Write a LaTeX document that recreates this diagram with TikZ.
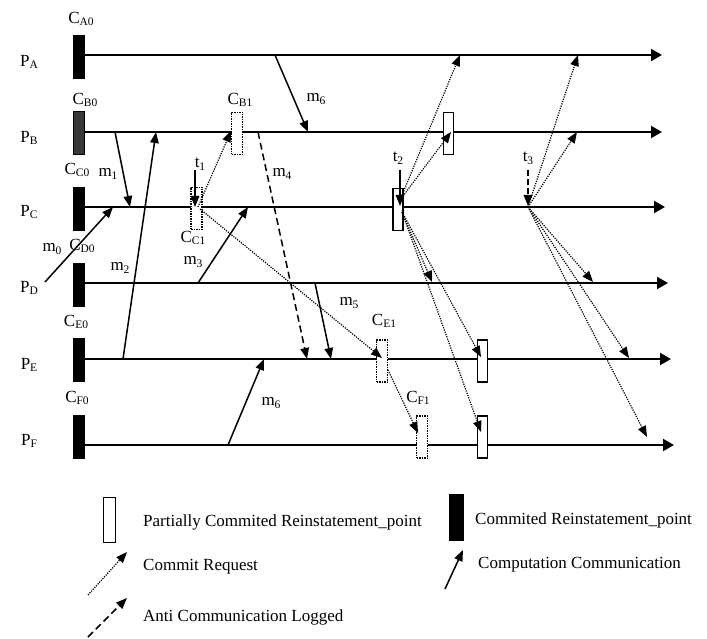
\documentclass[tikz,border=0pt]{standalone}
\usepackage{fontspec}
\setmainfont{Liberation Serif}
\usetikzlibrary{arrows.meta}
\newcommand\lbl[2]{#1\raisebox{-0.35ex}{\fontsize{11.5}{12}\selectfont #2}}
\begin{document}
\begin{tikzpicture}[x=1pt,y=-1pt,
  font=\fontsize{17}{20}\selectfont,
  proc/.style={line width=2pt,-{Triangle[length=11pt,width=12pt]}},
  msg/.style={line width=1.5pt,-{Triangle[length=11pt,width=8.5pt]}},
  req/.style={line width=1.2pt,dash pattern=on 1.2pt off 1.2pt,-{Triangle[length=11pt,width=8.5pt]}},
  anti/.style={line width=1.5pt,dash pattern=on 7pt off 4pt,-{Triangle[length=11pt,width=8.5pt]}},
  cp/.style={fill=black,draw=none,minimum width=12pt,minimum height=44pt,inner sep=0pt},
  pbox/.style={draw,fill=white,line width=1.4pt,minimum width=10pt,minimum height=42pt,inner sep=0pt},
  dbox/.style={draw,fill=white,line width=1.1pt,dash pattern=on 1.5pt off 1pt,minimum width=11pt,minimum height=42pt,inner sep=0pt},
  txt/.style={inner sep=0pt}]
\useasboundingbox (0,0) rectangle (707,639);

% process lines
\foreach \n/\y/\e in {A/55/662,B/132/662,C/207/665,D/283/668,E/359/671,F/445/674}{
  \coordinate (s\n) at (85,\y);
  \coordinate (e\n) at (\e,\y);
  \draw[proc] (s\n) -- (e\n);
}

% committed checkpoints
\node[cp] (cA0) at (79,57) {};
\node[cp,fill=black!78,draw=black,line width=0.8pt,minimum width=11pt,minimum height=43pt] (cB0) at (79,133) {};
\node[cp] (cC0) at (79,209) {};
\node[cp] (cD0) at (79,285) {};
\node[cp] (cE0) at (79,360) {};
\node[cp] (cF0) at (79,436.5) {};

% process labels
\node[txt] (lPA) at (29,62) {\lbl{P}{A}};
\node[txt] (lPB) at (29,138) {\lbl{P}{B}};
\node[txt] (lPC) at (29,212) {\lbl{P}{C}};
\node[txt] (lPD) at (29,288) {\lbl{P}{D}};
\node[txt] (lPE) at (29,365) {\lbl{P}{E}};
\node[txt] (lPF) at (29,441) {\lbl{P}{F}};

\node[txt] (lCA0) at (81,19) {\lbl{C}{A0}};
\node[txt] (lCB0) at (85,100) {\lbl{C}{B0}};
\node[txt] (lCC0) at (77,170) {\lbl{C}{C0}};
\node[txt] (lCD0) at (82,246) {\lbl{C}{D0}};
\node[txt] (lCE0) at (76,322) {\lbl{C}{E0}};
\node[txt] (lCF0) at (77,398) {\lbl{C}{F0}};

% boxes
\node[dbox] (cB1) at (237,133.5) {};
\node[dbox] (cC1) at (196.5,208.5) {};
\node[pbox] (t2b) at (398,209.5) {};
\node[pbox] (bB) at (448.5,133.5) {};
\node[dbox] (cE1) at (382,361) {};
\node[dbox] (cF1) at (422,437) {};
\node[pbox] (bE) at (482.5,361) {};
\node[pbox] (bF) at (482.5,437) {};

\node[txt] (lCB1) at (240,100) {\lbl{C}{B1}};
\node[txt] (lCC1) at (193,238) {\lbl{C}{C1}};
\node[txt] (lCE1) at (384,321) {\lbl{C}{E1}};
\node[txt] (lCF1) at (418,398) {\lbl{C}{F1}};

% computation messages
\coordinate (m1a) at (115,132); \coordinate (m1b) at (130,207);
\coordinate (m2a) at (123,359); \coordinate (m2b) at (156,132);
\coordinate (m0a) at (45,282);  \coordinate (m0b) at (113,207);
\coordinate (m3a) at (198,283); \coordinate (m3b) at (248,207);
\coordinate (m5a) at (315,283); \coordinate (m5b) at (331,359);
\coordinate (m6a) at (275,55);  \coordinate (m6b) at (308,132);
\coordinate (m7a) at (228,445); \coordinate (m7b) at (264,359);
\coordinate (m4a) at (258,132); \coordinate (m4b) at (307,359);
\draw[msg] (m1a) -- (m1b);
\draw[msg] (m2a) -- (m2b);
\draw[msg] (m0a) -- (m0b);
\draw[msg] (m3a) -- (m3b);
\draw[msg] (m5a) -- (m5b);
\draw[msg] (m6a) -- (m6b);
\draw[msg] (m7a) -- (m7b);
\draw[anti] (m4a) -- (m4b);

\node[txt] (lm1) at (108,174) {\lbl{m}{1}};
\node[txt] (lm0) at (52,249) {\lbl{m}{0}};
\node[txt] (lm2) at (120,268) {\lbl{m}{2}};
\node[txt] (lm3) at (193,262) {\lbl{m}{3}};
\node[txt] (lm4) at (282,174) {\lbl{m}{4}};
\node[txt] (lm5) at (349,303) {\lbl{m}{5}};
\node[txt] (lm6) at (316,99) {\lbl{m}{6}};
\node[txt] (lm6b) at (271,403) {\lbl{m}{6}};

% commit requests
\coordinate (oC1) at (198,207);
\coordinate (oC1b) at (200,209);
\coordinate (oE1) at (388,370);
\coordinate (o2u) at (400,200);
\coordinate (o2d) at (402,212);
\coordinate (o3) at (528,207);
\coordinate (rB1) at (231,131);
\coordinate (rE1) at (382,358);
\coordinate (rF1) at (418,433);
\coordinate (r2A) at (460,55);
\coordinate (r2B) at (451,132);
\coordinate (r2D) at (432,282);
\coordinate (r2E) at (481,357);
\coordinate (r2F) at (481,432);
\coordinate (r3A) at (578,55);
\coordinate (r3B) at (577,132);
\coordinate (r3D) at (593,282);
\coordinate (r3E) at (629,358);
\coordinate (r3F) at (647,437);
\draw[req] (oC1) -- (rB1);
\draw[req] (oC1b) -- (rE1);
\draw[req] (oE1) -- (rF1);
\draw[req] (o2u) -- (r2A);
\draw[req] (o2u) -- (r2B);
\draw[req] (o2d) -- (r2D);
\draw[req] (o2d) -- (r2E);
\draw[req] (o2d) -- (r2F);
\draw[req] (o3) -- (r3A);
\draw[req] (o3) -- (r3B);
\draw[req] (o3) -- (r3D);
\draw[req] (o3) -- (r3E);
\draw[req] (o3) -- (r3F);

% time markers
\coordinate (t1a) at (195,170); \coordinate (t1b) at (195,207);
\coordinate (t2a) at (400,170); \coordinate (t2c) at (400,206);
\coordinate (t3a) at (528,170); \coordinate (t3b) at (528,206);
\draw[msg] (t1a) -- (t1b);
\draw[msg] (t2a) -- (t2c);
\draw[msg,dash pattern=on 6pt off 3pt] (t3a) -- (t3b);
\node[txt] (lt1) at (200,164) {\lbl{t}{1}};
\node[txt] (lt2) at (398,158) {\lbl{t}{2}};
\node[txt] (lt3) at (528,158) {\lbl{t}{3}};

% legend
\node[pbox,minimum width=12pt,minimum height=45pt] (legP) at (109.5,520) {};
\node[txt,anchor=west] (legPt) at (143,522) {Partially Commited Reinstatement\_point};
\node[cp,minimum width=15pt,minimum height=47pt] (legC) at (456,517.5) {};
\node[txt,anchor=west] (legCt) at (475,520) {Commited Reinstatement\_point};
\coordinate (lrA) at (88,595); \coordinate (lrB) at (127,552);
\draw[req] (lrA) -- (lrB);
\node[txt,anchor=west] (legRt) at (143,567) {Commit Request};
\coordinate (lmA) at (445,589); \coordinate (lmB) at (463,550);
\draw[msg] (lmA) -- (lmB);
\node[txt,anchor=west] (legMt) at (478,565) {Computation Communication};
\coordinate (laA) at (88,637); \coordinate (laB) at (127,598);
\draw[anti] (laA) -- (laB);
\node[txt,anchor=west] (legAt) at (143,617) {Anti Communication Logged};
\end{tikzpicture}
\end{document}
